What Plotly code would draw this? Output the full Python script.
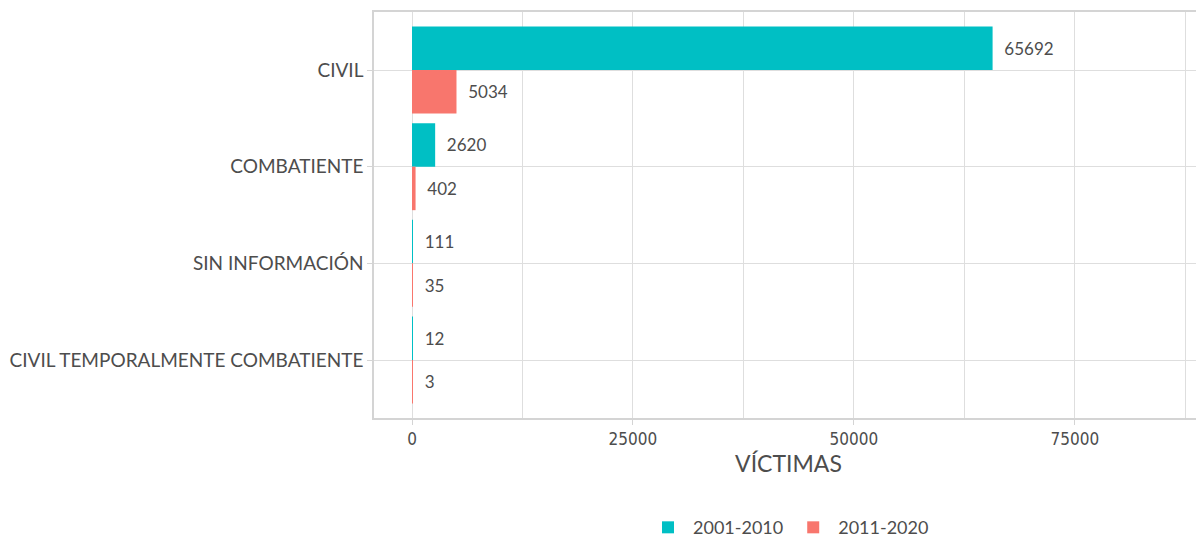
import plotly.graph_objects as go

CATEGORIES = ["CIVIL", "COMBATIENTE", "SIN INFORMACIÓN", "CIVIL TEMPORALMENTE COMBATIENTE"]
PERIODS = ["2001-2010", "2011-2020"]
VALUES_2001_2010 = [65692, 2620, 111, 12]
VALUES_2011_2020 = [5034, 402, 35, 3]
COLORS = {"2001-2010": "#00BFC4", "2011-2020": "#F8766D"}

FONT = "Lato, 'Open Sans', sans-serif"
NARROW = "'Liberation Sans Narrow', 'DejaVu Sans Condensed', Lato, sans-serif"
TEXT_COLOR = "#4d4d4d"
GRID = "#dedede"

fig = go.Figure()
for period, vals in zip(PERIODS, [VALUES_2001_2010, VALUES_2011_2020]):
    fig.add_trace(
        go.Bar(
            y=CATEGORIES,
            x=vals,
            orientation="h",
            name=period,
            marker={"color": COLORS[period], "line": {"width": 0}},
            text=[f"  {v}" for v in vals],
            textposition="outside",
            cliponaxis=False,
            textfont={"family": FONT, "size": 17, "color": TEXT_COLOR},
        )
    )

# page body has an 8px margin, so the figure is sized to fit the window
fig.update_layout(
    width=1196,
    height=535,
    barmode="group",
    bargap=0.1,
    bargroupgap=0,
    plot_bgcolor="white",
    paper_bgcolor="white",
    font={"family": FONT, "color": TEXT_COLOR},
    margin={"l": 366, "r": 1, "t": 4, "b": 125, "autoexpand": False},
    legend={
        "orientation": "h",
        "x": 0.5,
        "xanchor": "center",
        "y": -0.27,
        "yanchor": "middle",
        "font": {"family": FONT, "size": 18, "color": TEXT_COLOR},
        "traceorder": "normal",
        "itemwidth": 40,
    },
    xaxis={
        "range": [-4300, 89500],
        "tickvals": [0, 25000, 50000, 75000],
        "ticktext": ["0", "25000", "50000", "75000"],
        "showgrid": True,
        "gridcolor": GRID,
        "gridwidth": 1.2,
        "minor": {"tickvals": [12500, 37500, 62500, 87500], "showgrid": True, "gridcolor": GRID, "gridwidth": 1},
        "zeroline": False,
        "showline": True,
        "mirror": True,
        "linecolor": "#d4d4d4",
        "linewidth": 1.5,
        "ticks": "outside",
        "ticklen": 5,
        "tickcolor": "#d4d4d4",
        "tickfont": {"family": NARROW, "size": 17, "color": TEXT_COLOR},
        "title": {"text": "VÍCTIMAS", "font": {"family": FONT, "size": 23, "color": TEXT_COLOR}, "standoff": 7},
    },
    yaxis={
        "autorange": False,
        "range": [3.6, -0.6],
        "showgrid": True,
        "gridcolor": GRID,
        "gridwidth": 1.2,
        "showline": True,
        "mirror": True,
        "linecolor": "#d4d4d4",
        "linewidth": 1.5,
        "ticks": "outside",
        "ticklen": 5,
        "tickcolor": "#d4d4d4",
        "tickfont": {"family": FONT, "size": 19, "color": TEXT_COLOR},
    },
)

fig.write_html("out.html")
